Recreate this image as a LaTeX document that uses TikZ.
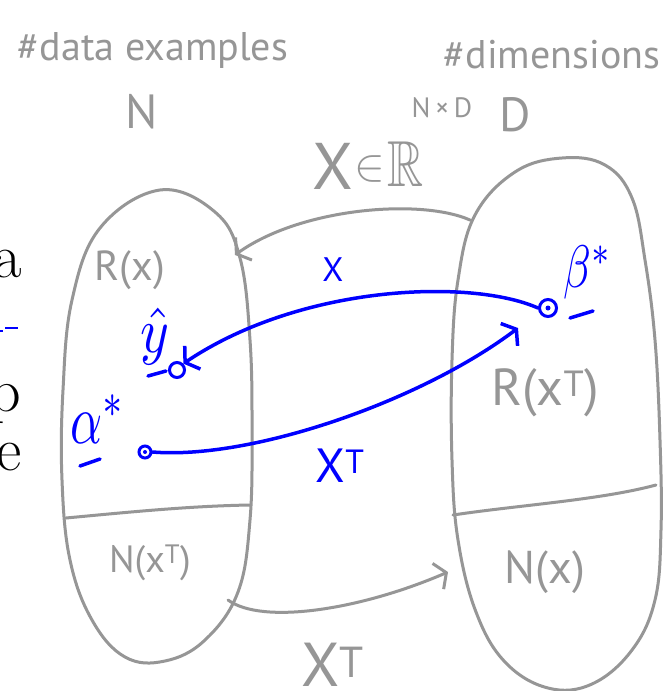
\documentclass[tikz,border=0pt]{standalone}
\usepackage{fontspec}
\usepackage{amssymb}
\usepackage{graphicx}
\newfontfamily\hand{PT Sans}
\usetikzlibrary{arrows.meta}
\definecolor{pen}{RGB}{150,150,150}
\definecolor{ink}{RGB}{0,0,255}
\begin{document}
\begin{tikzpicture}[x=1pt,y=-1pt,
  blob/.style={draw=pen, line width=3pt},
  gline/.style={draw=pen, line width=3pt, line cap=round},
  garrow/.style={draw=pen, line width=3pt, line cap=round, -{Straight Barb[length=9pt,width=28pt,line width=3pt]}},
  barrow/.style={draw=ink, line width=3.5pt, line cap=round, -{Straight Barb[length=9pt,width=28pt,line width=3.5pt]}},
  bline/.style={draw=ink, line width=3.5pt, line cap=round},
  dotnode/.style={circle, draw=ink, line width=3pt, minimum size=15pt, inner sep=0pt},
  gtext/.style={text=pen, inner sep=0pt, font=\hand\fontsize{#1}{#1}\selectfont},
  btext/.style={text=ink, inner sep=0pt, font=\hand\fontsize{#1}{#1}\selectfont},
  gmath/.style={text=pen, inner sep=0pt},
  bmath/.style={text=ink, inner sep=0pt},
  ptext/.style={inner sep=0pt, font=\fontsize{62}{62}\selectfont}
]
\useasboundingbox (0,0) rectangle (672,691);
\fill[white] (0,0) rectangle (672,691);

% cropped page text at left edge
\node[ptext, anchor=base east] (pa) at (22,277) {a};
\node[ptext, anchor=base east] (pp) at (21,411) {p};
\node[ptext, anchor=base east] (pe) at (22,470) {e};
\draw[draw=ink, line width=2pt] (5,328) -- (18,328);
\draw[draw=ink, line width=2pt] (0,331) -- (3,331);

% headings
\node[gtext=40] (hdata) at (153,50) {\#data examples};
\node[gtext=48] (hN) at (142,112) {N};
\node[gtext=40] (hdim) at (552,55) {\#dimensions};
\node[gtext=48] (hD) at (515,115) {D};

% left blob
\draw[blob] plot[smooth cycle, tension=0.65] coordinates {
  (160,190) (215,212) (240,258) (250,340) (252,430) (250,520) (238,592)
  (205,640) (165,661) (125,657) (92,620) (70,560) (62,480) (63,390) (72,300) (100,228)};
\draw[gline] (66,518) .. controls (130,512) and (190,506) .. (250,505);
% right blob
\draw[blob] plot[smooth cycle, tension=0.65] coordinates {
  (562,158) (605,165) (632,198) (645,260) (655,340) (660,440) (661,530) (655,600)
  (632,650) (592,684) (548,688) (505,662) (476,612) (458,540) (452,460) (452,360)
  (458,280) (475,215) (515,172)};
\draw[gline] (453,515) .. controls (520,505) and (600,500) .. (656,485);

\coordinate (rtop) at (470,220);
\coordinate (ltop) at (235,255);
\coordinate (lbot) at (228,600);
\coordinate (rbot) at (448,572);

% gray arrows
\draw[garrow] (rtop) .. controls (420,198) and (300,208) .. (ltop);
\draw[garrow] (lbot) .. controls (262,625) and (360,610) .. (rbot);

% gray labels
\node[gtext=42] (Rx) at (130,270) {R(x)};
\node[gtext=52] (RxT) at (545,393) {R(x\textsuperscript{T})};
\node[gtext=38] (NxT) at (150,563) {N(x\textsuperscript{T})};
\node[gtext=46] (Nx) at (545,572) {N(x)};
\node[gtext=62] (XTb) at (333,665) {X\textsuperscript{T}};
\node[gtext=66] (Xg) at (333,166) {X};
\node[gmath] (ing) at (370,169) {\scalebox{4.6}{$\in$}};
\node[gmath] (Rg) at (406,164) {\scalebox{5}[6.5]{$\mathbb{R}$}};
\node[gtext=28] (NxD) at (442,108) {N\,×\,D};

% blue points
\node[dotnode] (yhat) at (177,370) {};
\node[dotnode, minimum size=12pt] (alpha) at (145,452) {};
\node[dotnode, minimum size=17pt] (beta) at (548,308) {};
\fill[ink] (beta) circle (2.5);
\fill[ink] (alpha) circle (2);

% blue labels
\node[bmath] (yl) at (155,336) {\scalebox{5.5}[6.4]{$\hat{y}$}};
\draw[bline] (148,376) -- (166,371);
\node[bmath] (al) at (98,419) {\scalebox{5}[7]{$\alpha^{*}$}};
\draw[bline] (80,466) -- (100,459);
\node[bmath] (bl) at (588,272) {\scalebox{4.5}[6]{$\beta^{*}$}};
\draw[bline] (570,318) -- (593,311);
\node[btext=34] (xlab) at (333,270) {X};
\node[btext=48] (xtlab) at (340,466) {X\textsuperscript{T}};

% blue arrows
\draw[barrow] (beta.west) .. controls (470,278) and (300,285) .. (yhat.north east);
\draw[barrow] (alpha.east) .. controls (250,460) and (420,402) .. (518,328);
\end{tikzpicture}
\end{document}
